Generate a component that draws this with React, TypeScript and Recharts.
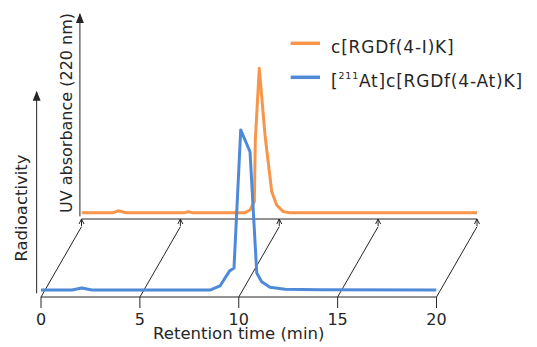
import { LineChart, Line, XAxis, YAxis, ReferenceLine } from "recharts"

// front trace: radioactivity detector, minutes vs signal (a.u.)
const RADIO_TIME = [0, 1.57, 2.06, 2.58, 8.55, 9.05, 9.53, 9.76, 10.1, 10.57, 10.91, 11.16, 11.58, 12.34, 14.1, 20]
const RADIO_SIGNAL = [3.4, 3.4, 4.4, 3.4, 3.4, 5.4, 12.7, 14.2, 81.9, 71.2, 11.8, 7.5, 4.8, 3.8, 3.6, 3.4]

// back trace: UV 220 nm
const UV_TIME = [0, 1.6, 1.86, 2.1, 2.3, 5.23, 5.4, 5.59, 8.27, 8.52, 8.74, 8.79, 8.99, 9.28, 9.62, 9.87, 10.2, 10.54, 20]
const UV_SIGNAL = [3.1, 3.1, 4.0, 3.4, 3.1, 3.1, 3.6, 3.1, 3.1, 4.4, 8.4, 38.5, 73.5, 41.0, 13.3, 6.8, 3.6, 3.1, 3.1]

const TIME_TICKS = [0, 5, 10, 15, 20]

const LEGEND_NAMES = ["c[RGDf(4-I)K]", "c[RGDf(4-At)K]"]
const LEGEND_PREFIX = ["", "211"] // isotope superscript for the labelled compound

const W = 537
const H = 347
const FONT = "'DejaVu Sans', sans-serif"
const INK = "#262626"
const ORANGE = "#F7964A"
const BLUE = "#4F8AD8"

// offset of the back plane, in front-chart units
const DEPTH_T = 2.05
const DEPTH_V = 34.5

const uvData = UV_TIME.map((t, i) => ({ t, v: UV_SIGNAL[i] }))
const radioData = RADIO_TIME.map((t, i) => ({ t, v: RADIO_SIGNAL[i] }))

function BackTick(props: any) {
  const { x, y } = props
  const top = y - 7
  return (
    <path
      d={`M${x - 2.5},${top + 5}L${x},${top}L${x + 2.5},${top + 5}`}
      fill="none"
      stroke={INK}
      strokeWidth={1}
    />
  )
}

export default function App() {
  return (
    <div style={{ position: "absolute", left: 0, top: 0, width: W, height: H, background: "#fff" }}>
      <svg width={0} height={0} style={{ position: "absolute" }}>
        <defs>
          <marker
            id="axisArrow"
            markerUnits="userSpaceOnUse"
            markerWidth={10}
            markerHeight={8}
            viewBox="0 0 10 8"
            refX={9}
            refY={4}
            orient="auto"
          >
            <path d="M0,0L10,4L0,8z" fill={INK} />
          </marker>
        </defs>
      </svg>

      {/* back plane: UV absorbance */}
      <div style={{ position: "absolute", left: 0, top: 0 }}>
        <LineChart width={W} height={H} data={uvData} margin={{ top: 14, right: 60, bottom: 0, left: 81.5 }}>
          <XAxis
            dataKey="t"
            type="number"
            domain={[0, 20]}
            ticks={TIME_TICKS}
            allowDataOverflow
            height={128}
            axisLine={{ stroke: INK }}
            tickLine={{ stroke: INK }}
            tickSize={7}
            tickMargin={0}
            tick={(p: any) => <BackTick {...p} />}
          />
          <YAxis hide width={0} domain={[0, 100]} allowDataOverflow />
          <ReferenceLine
            segment={[{ x: -0.08, y: 1.3 }, { x: -0.08, y: 100 }]}
            stroke={INK}
            ifOverflow="visible"
            markerEnd="url(#axisArrow)"
          />
          <Line
            dataKey="v"
            type="linear"
            stroke={ORANGE}
            strokeWidth={3}
            strokeLinejoin="round"
            dot={false}
            isAnimationActive={false}
          />
        </LineChart>
      </div>

      {/* front plane: radioactivity */}
      <div style={{ position: "absolute", left: 0, top: 0 }}>
        <LineChart width={W} height={H} data={radioData} margin={{ top: 93, right: 100.5, bottom: 0, left: 41 }}>
          <XAxis
            dataKey="t"
            type="number"
            domain={[0, 20]}
            ticks={TIME_TICKS}
            allowDataOverflow
            height={50}
            axisLine={{ stroke: INK }}
            tickLine={{ stroke: INK }}
            tickSize={11}
            tickMargin={6}
            tick={{ fill: INK, fontSize: 16, fontFamily: FONT }}
            label={{
              value: "Retention time (min)",
              position: "insideBottom",
              offset: 8,
              fill: INK,
              fontSize: 16.5,
              fontFamily: FONT,
            }}
          />
          <YAxis hide width={0} domain={[0, 100]} allowDataOverflow />
          {TIME_TICKS.map((t) => (
            <ReferenceLine
              key={t}
              segment={[{ x: t, y: 0 }, { x: t + DEPTH_T, y: DEPTH_V }]}
              stroke={INK}
              ifOverflow="visible"
            />
          ))}
          <ReferenceLine
            segment={[{ x: -0.22, y: 1.8 }, { x: -0.22, y: 100.6 }]}
            stroke={INK}
            ifOverflow="visible"
            markerEnd="url(#axisArrow)"
          />
          <Line
            dataKey="v"
            type="linear"
            stroke={BLUE}
            strokeWidth={3}
            strokeLinejoin="round"
            dot={false}
            isAnimationActive={false}
          />
        </LineChart>
      </div>

      {/* axis titles and legend */}
      <svg width={W} height={H} style={{ position: "absolute", left: 0, top: 0, pointerEvents: "none" }}>
        <text
          x={26.7}
          y={208}
          transform="rotate(-90 26.7 208)"
          textAnchor="middle"
          fill={INK}
          fontSize={16.5}
          fontFamily={FONT}
        >
          Radioactivity
        </text>
        <text
          x={71.7}
          y={113}
          transform="rotate(-90 71.7 113)"
          textAnchor="middle"
          fill={INK}
          fontSize={16}
          fontFamily={FONT}
        >
          UV absorbance (220 nm)
        </text>
        {LEGEND_NAMES.map((name, i) => {
          const cy = 43.3 + i * 34
          const color = i === 0 ? ORANGE : BLUE
          return (
            <g key={name}>
              <line x1={290.7} x2={320} y1={cy} y2={cy} stroke={color} strokeWidth={3.5} />
              <text x={331} y={cy + 9.2} fill={INK} fontSize={17} fontFamily={FONT} letterSpacing={0.8}>
                {LEGEND_PREFIX[i] ? (
                  <>
                    [<tspan fontSize={9.5} dy={-8}>{LEGEND_PREFIX[i]}</tspan>
                    <tspan dy={8}>At]</tspan>
                  </>
                ) : null}
                {name}
              </text>
            </g>
          )
        })}
      </svg>
    </div>
  )
}
